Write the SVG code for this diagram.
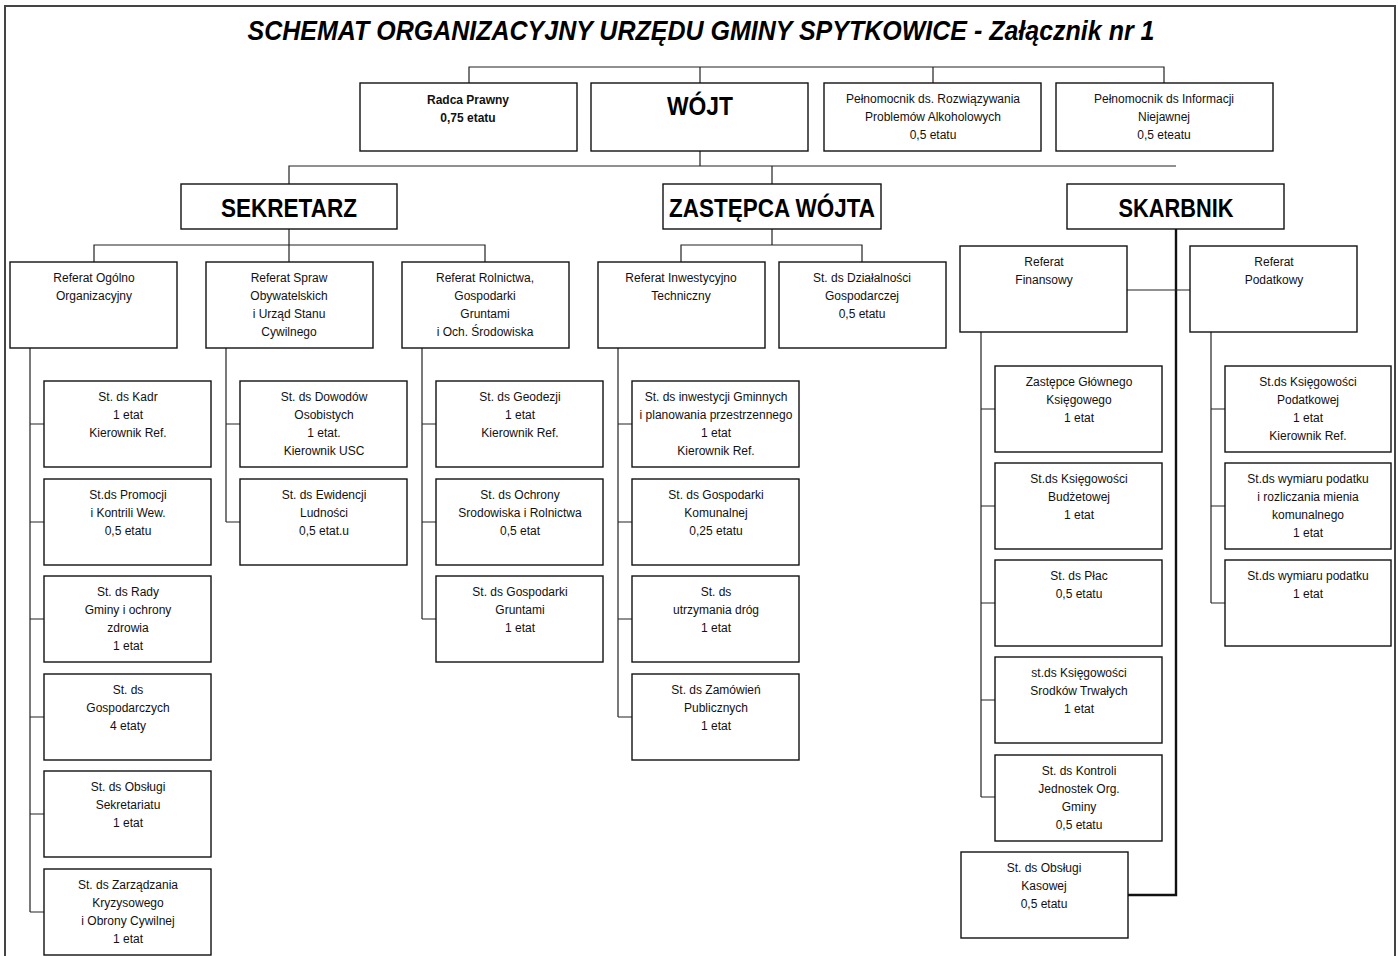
<svg xmlns="http://www.w3.org/2000/svg" width="1398" height="956" viewBox="0 0 1398 956">
<style>
.b{fill:#fff;stroke:#111;stroke-width:1.4}
.t{font-family:"Liberation Sans",Arial,sans-serif;font-size:12px;fill:#111;text-anchor:middle}
.tb{font-family:"Liberation Sans",Arial,sans-serif;font-size:12px;font-weight:bold;fill:#111;text-anchor:middle}
.h{font-family:"Liberation Sans",Arial,sans-serif;font-size:25px;font-weight:bold;fill:#000;text-anchor:middle}
.c{fill:none;stroke:#222;stroke-width:1.2}
.ck{fill:none;stroke:#111;stroke-width:2.4}
</style>
<rect width="1398" height="956" fill="#fff"/>
<path d="M5,956 V6 H1395 V956" fill="none" stroke="#444" stroke-width="2"/>
<text x="701" y="40" font-family="Liberation Sans,Arial,sans-serif" font-size="28" font-weight="bold" font-style="italic" text-anchor="middle" textLength="907" lengthAdjust="spacingAndGlyphs">SCHEMAT ORGANIZACYJNY URZĘDU GMINY SPYTKOWICE - Załącznik nr 1</text>

<g id="connectors">
<path class="c" d="M469,83 V67 H1164 V83 M700,67 V83 M933,67 V83"/>
<path class="c" d="M700,151 V166 M289,184 V166 H1176 M772,166 V184"/>
<path class="c" d="M289,229 V245 M94,262 V245 H485 V262 M289,245 V262"/>
<path class="c" d="M772,229 V245 M681,262 V245 H862 V262"/>
<path class="ck" d="M1176,229 V895 H1128"/>
<path class="c" d="M1127,290 H1190"/>
<path class="c" d="M30,348 V912 M30,424 H44 M30,522 H44 M30,619 H44 M30,717 H44 M30,814 H44 M30,912 H44"/>
<path class="c" d="M226,348 V522 M226,424 H240 M226,522 H240"/>
<path class="c" d="M422,348 V619 M422,424 H436 M422,522 H436 M422,619 H436"/>
<path class="c" d="M618,348 V717 M618,424 H632 M618,522 H632 M618,619 H632 M618,717 H632"/>
<path class="c" d="M981,332 V797 M981,409 H995 M981,506 H995 M981,603 H995 M981,700 H995 M981,797 H995"/>
<path class="c" d="M1211,332 V603 M1211,409 H1225 M1211,506 H1225 M1211,603 H1225"/>
</g>

<g id="radca"><rect class="b" x="360" y="83" width="217" height="68"/><text class="tb" x="468" y="104">Radca Prawny<tspan x="468" dy="18">0,75 etatu</tspan></text></g>
<g id="wojt"><rect class="b" x="591" y="83" width="217" height="68"/><text class="h" x="700" y="115" font-size="27" textLength="66" lengthAdjust="spacingAndGlyphs">WÓJT</text></g>
<g id="pelnomocnik-alkohol"><rect class="b" x="824" y="83" width="217" height="68"/><text class="t" x="933" y="103">Pełnomocnik ds. Rozwiązywania<tspan x="933" dy="18">Problemów Alkoholowych</tspan><tspan x="933" dy="18">0,5 etatu</tspan></text></g>
<g id="pelnomocnik-informacji"><rect class="b" x="1056" y="83" width="217" height="68"/><text class="t" x="1164" y="103">Pełnomocnik ds Informacji<tspan x="1164" dy="18">Niejawnej</tspan><tspan x="1164" dy="18">0,5 eteatu</tspan></text></g>

<g id="sekretarz"><rect class="b" x="181" y="184" width="216" height="45"/><text class="h" x="289" y="217" textLength="136" lengthAdjust="spacingAndGlyphs">SEKRETARZ</text></g>
<g id="zastepca"><rect class="b" x="663" y="184" width="218" height="45"/><text class="h" x="772" y="217" textLength="206" lengthAdjust="spacingAndGlyphs">ZASTĘPCA WÓJTA</text></g>
<g id="skarbnik"><rect class="b" x="1067" y="184" width="217" height="45"/><text class="h" x="1176" y="217" textLength="115" lengthAdjust="spacingAndGlyphs">SKARBNIK</text></g>

<g id="ref-ogolno"><rect class="b" x="10" y="262" width="167" height="86"/><text class="t" x="94" y="282">Referat Ogólno<tspan x="94" dy="18">Organizacyjny</tspan></text></g>
<g id="ref-spraw"><rect class="b" x="206" y="262" width="167" height="86"/><text class="t" x="289" y="282">Referat Spraw<tspan x="289" dy="18">Obywatelskich</tspan><tspan x="289" dy="18">i Urząd Stanu</tspan><tspan x="289" dy="18">Cywilnego</tspan></text></g>
<g id="ref-rolnictwa"><rect class="b" x="402" y="262" width="167" height="86"/><text class="t" x="485" y="282">Referat Rolnictwa,<tspan x="485" dy="18">Gospodarki</tspan><tspan x="485" dy="18">Gruntami</tspan><tspan x="485" dy="18">i Och. Środowiska</tspan></text></g>
<g id="ref-inwest"><rect class="b" x="598" y="262" width="167" height="86"/><text class="t" x="681" y="282">Referat Inwestycyjno<tspan x="681" dy="18">Techniczny</tspan></text></g>
<g id="st-dzialalnosci"><rect class="b" x="779" y="262" width="167" height="86"/><text class="t" x="862" y="282">St. ds Działalności<tspan x="862" dy="18">Gospodarczej</tspan><tspan x="862" dy="18">0,5 etatu</tspan></text></g>
<g id="ref-finansowy"><rect class="b" x="960" y="246" width="167" height="86"/><text class="t" x="1044" y="266">Referat<tspan x="1044" dy="18">Finansowy</tspan></text></g>
<g id="ref-podatkowy"><rect class="b" x="1190" y="246" width="167" height="86"/><text class="t" x="1274" y="266">Referat<tspan x="1274" dy="18">Podatkowy</tspan></text></g>

<g id="st-kadr"><rect class="b" x="44" y="381" width="167" height="86"/><text class="t" x="128" y="401">St. ds Kadr<tspan x="128" dy="18">1 etat</tspan><tspan x="128" dy="18">Kierownik Ref.</tspan></text></g>
<g id="st-promocji"><rect class="b" x="44" y="479" width="167" height="86"/><text class="t" x="128" y="499">St.ds Promocji<tspan x="128" dy="18">i Kontrili Wew.</tspan><tspan x="128" dy="18">0,5 etatu</tspan></text></g>
<g id="st-rady"><rect class="b" x="44" y="576" width="167" height="86"/><text class="t" x="128" y="596">St. ds Rady<tspan x="128" dy="18">Gminy i ochrony</tspan><tspan x="128" dy="18">zdrowia</tspan><tspan x="128" dy="18">1 etat</tspan></text></g>
<g id="st-gospodarczych"><rect class="b" x="44" y="674" width="167" height="86"/><text class="t" x="128" y="694">St. ds<tspan x="128" dy="18">Gospodarczych</tspan><tspan x="128" dy="18">4 etaty</tspan></text></g>
<g id="st-sekretariatu"><rect class="b" x="44" y="771" width="167" height="86"/><text class="t" x="128" y="791">St. ds Obsługi<tspan x="128" dy="18">Sekretariatu</tspan><tspan x="128" dy="18">1 etat</tspan></text></g>
<g id="st-kryzysowego"><rect class="b" x="44" y="869" width="167" height="86"/><text class="t" x="128" y="889">St. ds Zarządzania<tspan x="128" dy="18">Kryzysowego</tspan><tspan x="128" dy="18">i Obrony Cywilnej</tspan><tspan x="128" dy="18">1 etat</tspan></text></g>

<g id="st-dowodow"><rect class="b" x="240" y="381" width="167" height="86"/><text class="t" x="324" y="401">St. ds Dowodów<tspan x="324" dy="18">Osobistych</tspan><tspan x="324" dy="18">1 etat.</tspan><tspan x="324" dy="18">Kierownik USC</tspan></text></g>
<g id="st-ewidencji"><rect class="b" x="240" y="479" width="167" height="86"/><text class="t" x="324" y="499">St. ds Ewidencji<tspan x="324" dy="18">Ludności</tspan><tspan x="324" dy="18">0,5 etat.u</tspan></text></g>

<g id="st-geodezji"><rect class="b" x="436" y="381" width="167" height="86"/><text class="t" x="520" y="401">St. ds Geodezji<tspan x="520" dy="18">1 etat</tspan><tspan x="520" dy="18">Kierownik Ref.</tspan></text></g>
<g id="st-ochrony"><rect class="b" x="436" y="479" width="167" height="86"/><text class="t" x="520" y="499">St. ds Ochrony<tspan x="520" dy="18">Srodowiska i Rolnictwa</tspan><tspan x="520" dy="18">0,5 etat</tspan></text></g>
<g id="st-gruntami"><rect class="b" x="436" y="576" width="167" height="86"/><text class="t" x="520" y="596">St. ds Gospodarki<tspan x="520" dy="18">Gruntami</tspan><tspan x="520" dy="18">1 etat</tspan></text></g>

<g id="st-inwestycji"><rect class="b" x="632" y="381" width="167" height="86"/><text class="t" x="716" y="401">St. ds inwestycji Gminnych<tspan x="716" dy="18">i planowania przestrzennego</tspan><tspan x="716" dy="18">1 etat</tspan><tspan x="716" dy="18">Kierownik Ref.</tspan></text></g>
<g id="st-komunalnej"><rect class="b" x="632" y="479" width="167" height="86"/><text class="t" x="716" y="499">St. ds Gospodarki<tspan x="716" dy="18">Komunalnej</tspan><tspan x="716" dy="18">0,25 etatu</tspan></text></g>
<g id="st-drog"><rect class="b" x="632" y="576" width="167" height="86"/><text class="t" x="716" y="596">St. ds<tspan x="716" dy="18">utrzymania dróg</tspan><tspan x="716" dy="18">1 etat</tspan></text></g>
<g id="st-zamowien"><rect class="b" x="632" y="674" width="167" height="86"/><text class="t" x="716" y="694">St. ds Zamówień<tspan x="716" dy="18">Publicznych</tspan><tspan x="716" dy="18">1 etat</tspan></text></g>

<g id="zastepce-ksiegowego"><rect class="b" x="995" y="366" width="167" height="86"/><text class="t" x="1079" y="386">Zastępce Głównego<tspan x="1079" dy="18">Księgowego</tspan><tspan x="1079" dy="18">1 etat</tspan></text></g>
<g id="st-budzetowej"><rect class="b" x="995" y="463" width="167" height="86"/><text class="t" x="1079" y="483">St.ds Księgowości<tspan x="1079" dy="18">Budżetowej</tspan><tspan x="1079" dy="18">1 etat</tspan></text></g>
<g id="st-plac"><rect class="b" x="995" y="560" width="167" height="86"/><text class="t" x="1079" y="580">St. ds Płac<tspan x="1079" dy="18">0,5 etatu</tspan></text></g>
<g id="st-trwalych"><rect class="b" x="995" y="657" width="167" height="86"/><text class="t" x="1079" y="677">st.ds Księgowości<tspan x="1079" dy="18">Srodków Trwałych</tspan><tspan x="1079" dy="18">1 etat</tspan></text></g>
<g id="st-kontroli"><rect class="b" x="995" y="755" width="167" height="86"/><text class="t" x="1079" y="775">St. ds Kontroli<tspan x="1079" dy="18">Jednostek Org.</tspan><tspan x="1079" dy="18">Gminy</tspan><tspan x="1079" dy="18">0,5 etatu</tspan></text></g>
<g id="st-kasowej"><rect class="b" x="961" y="852" width="167" height="86"/><text class="t" x="1044" y="872">St. ds Obsługi<tspan x="1044" dy="18">Kasowej</tspan><tspan x="1044" dy="18">0,5 etatu</tspan></text></g>

<g id="st-podatkowej"><rect class="b" x="1225" y="366" width="166" height="86"/><text class="t" x="1308" y="386">St.ds Księgowości<tspan x="1308" dy="18">Podatkowej</tspan><tspan x="1308" dy="18">1 etat</tspan><tspan x="1308" dy="18">Kierownik Ref.</tspan></text></g>
<g id="st-wymiaru-mienia"><rect class="b" x="1225" y="463" width="166" height="86"/><text class="t" x="1308" y="483">St.ds wymiaru podatku<tspan x="1308" dy="18">i rozliczania mienia</tspan><tspan x="1308" dy="18">komunalnego</tspan><tspan x="1308" dy="18">1 etat</tspan></text></g>
<g id="st-wymiaru"><rect class="b" x="1225" y="560" width="166" height="86"/><text class="t" x="1308" y="580">St.ds wymiaru podatku<tspan x="1308" dy="18">1 etat</tspan></text></g>
</svg>
